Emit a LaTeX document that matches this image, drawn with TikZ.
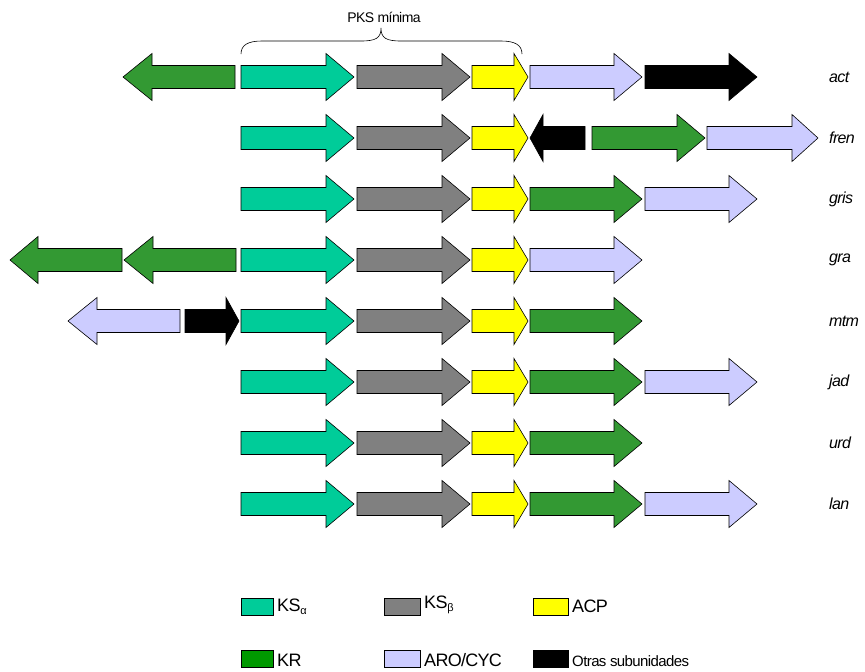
\documentclass[tikz,border=0pt]{standalone}
\usepackage{fontspec}
\setmainfont[LetterSpace=-4]{Liberation Sans}
\definecolor{ksa}{HTML}{00CC99}
\definecolor{ksb}{HTML}{808080}
\definecolor{acp}{HTML}{FFFF00}
\definecolor{kr}{HTML}{339933}
\definecolor{krleg}{HTML}{009900}
\definecolor{aro}{HTML}{CCCCFF}
\definecolor{otr}{HTML}{000000}
\tikzset{
  arr/.style={draw=black, line width=0.6pt, line join=miter},
  lab/.style={anchor=west, font=\fontsize{16}{16}\selectfont\itshape, inner sep=0pt},
  legbox/.style={draw=black, line width=0.6pt},
  legtxt/.style={anchor=west, font=\fontsize{18}{18}\selectfont, inner sep=0pt},
}
% right arrow: x1, x2, head length, y, colour
\newcommand\RArr[5]{\draw[arr,fill=#5] (#1,#4-11.5) -- (#2-#3,#4-11.5) -- (#2-#3,#4-23.5) -- (#2,#4) -- (#2-#3,#4+23.5) -- (#2-#3,#4+11.5) -- (#1,#4+11.5) -- cycle;}
% left arrow: tip x, body end x, head length, y, colour
\newcommand\LArr[5]{\draw[arr,fill=#5] (#2,#4-11.5) -- (#1+#3,#4-11.5) -- (#1+#3,#4-23.5) -- (#1,#4) -- (#1+#3,#4+23.5) -- (#1+#3,#4+11.5) -- (#2,#4+11.5) -- cycle;}
% minimal PKS: cyan, gray, yellow
\newcommand\MinPKS[1]{\RArr{241}{354}{28}{#1}{ksa}\RArr{357}{470}{28}{#1}{ksb}\RArr{472}{528}{14}{#1}{acp}}
\begin{document}
\begin{tikzpicture}[x=1pt,y=-1pt]
\useasboundingbox (0,0) rectangle (865,672);
% brace
\draw[line width=0.6pt] (241,54) .. controls (241,45) and (248,41) .. (262,41) -- (361,41)
  .. controls (376,41) and (381,38) .. (381,28) .. controls (381,38) and (386,41) .. (401,41)
  -- (501,41) .. controls (515,41) and (522,45) .. (522,54);
\node[inner sep=0pt, font=\fontsize{14}{14}\selectfont] (pks) at (384,17) {PKS mínima};
% act
\LArr{123}{235}{29}{77}{kr}
\MinPKS{77}
\RArr{530}{642}{28}{77}{aro}
\RArr{645}{757}{28}{77}{otr}
\node[lab] (act) at (829,77) {act};
% fren
\MinPKS{138}
\LArr{530}{585}{13}{138}{otr}
\RArr{592}{705}{28}{138}{kr}
\RArr{707}{818}{26}{138}{aro}
\node[lab] (fren) at (829,138) {fren};
% gris
\MinPKS{199}
\RArr{530}{642}{28}{199}{kr}
\RArr{645}{757}{28}{199}{aro}
\node[lab] (gris) at (829,199) {gris};
% gra
\LArr{10}{122}{28}{260}{kr}
\LArr{124}{236}{29}{260}{kr}
\MinPKS{260}
\RArr{530}{642}{28}{260}{aro}
\node[lab] (gra) at (829,260) {gra};
% mtm
\LArr{68}{180}{29}{321}{aro}
\RArr{185}{239}{13}{321}{otr}
\MinPKS{321}
\RArr{530}{642}{28}{321}{kr}
\node[lab] (mtm) at (829,321) {mtm};
% jad
\MinPKS{382}
\RArr{530}{642}{28}{382}{kr}
\RArr{645}{757}{28}{382}{aro}
\node[lab] (jad) at (829,382) {jad};
% urd
\MinPKS{443}
\RArr{530}{642}{28}{443}{kr}
\node[lab] (urd) at (829,443) {urd};
% lan
\MinPKS{504}
\RArr{530}{642}{28}{504}{kr}
\RArr{645}{757}{28}{504}{aro}
\node[lab] (lan) at (829,504) {lan};
% legend
\draw[legbox, fill=ksa] (241,598) rectangle (273,615);
\node[legtxt] (l1) at (277,607) {KS\textsubscript{\fontsize{11}{11}\selectfont α}};
\draw[legbox, fill=ksb] (384,598) rectangle (420,615);
\node[legtxt] (l2) at (424,605) {KS\textsubscript{\fontsize{11}{11}\selectfont β}};
\draw[legbox, fill=acp] (533,598) rectangle (568,615);
\node[legtxt] (l3) at (572,606) {ACP};
\draw[legbox, fill=krleg] (241,650) rectangle (273,667);
\node[legtxt] (l4) at (277,660) {KR};
\draw[legbox, fill=aro] (384,650) rectangle (420,667);
\node[legtxt] (l5) at (424,660) {ARO/CYC};
\draw[legbox, fill=otr] (533,650) rectangle (568,667);
\node[legtxt, font=\fontsize{15}{15}\selectfont] (l6) at (572,661) {Otras subunidades};
\end{tikzpicture}
\end{document}
